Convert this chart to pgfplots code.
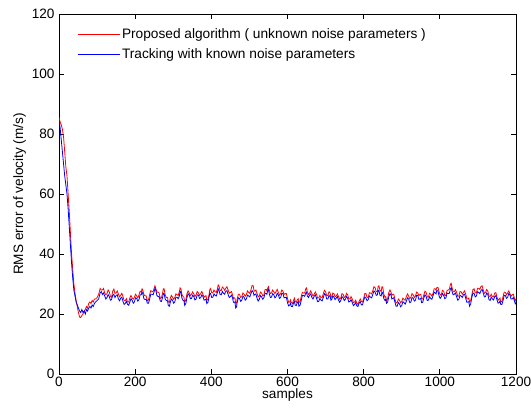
\documentclass[border=0pt]{standalone}
\usepackage{pgfplots}
\pgfplotsset{compat=1.18}
\usepackage{pgfplotstable}
\usepackage{fontspec}
\setmainfont{Liberation Sans}
\pgfplotstableread{
x b r
0 85 85.5
3 82 84
6 78 83
9 74 81.5
12 70 79
15 66 74
18 63 69
21 60 66
24 55 60
27 49 54
30 43 47
33 37 40
36 32 35
39 28 30
42 26 27
45 24 24.5
48 23 22.5
51 22 20.5
54 21 19
57 20.5 18.8
60 21.5 19.5
63 20.5 20
66 21 21
69 20 21.5
72 21.5 22.5
75 21 22
78 22 23.5
81 22.5 24
84 22 23.5
87 23 24.5
90 22.5 24
93 23.5 25
96 24 25
100 24.5 25.5
104 25 26.5
108 27 28.5
111 27.5 28
114 26.5 28
117 27 28.5
120 26 27
123 25.0 26.4
126 25.5 26.8
129 26.5 28.0
132 25.8 27.4
135 24.6 25.9
138 24.8 25.6
141 26.3 27.6
144 26.5 28.3
147 25.5 26.9
150 26.2 27.0
153 26.4 27.7
156 25.0 26.6
159 24.4 25.7
162 25.3 26.2
165 25.6 26.9
168 24.2 25.8
171 23.2 24.5
174 23.5 24.4
177 24.2 25.1
180 23.2 24.0
183 22.9 24.0
186 24.0 25.3
189 25.1 26.2
192 24.6 25.4
195 23.6 24.9
198 24.0 25.6
201 25.4 26.6
204 25.2 26.0
207 24.3 25.4
210 24.8 26.3
213 26.4 27.6
216 26.4 27.2
218 27.3 28.4
220 26.8 28.0
223 25.1 26.4
226 24.8 26.1
229 24.9 26.0
232 23.6 24.4
235 23.6 24.7
238 25.0 26.4
241 26.6 27.8
244 26.6 27.5
247 26.4 27.4
250 27.5 28.7
252 28.6 29.4
254 28.0 28.6
257 26.2 27.3
260 25.8 27.3
263 25.8 27.0
266 24.3 25.2
269 24.2 25.4
272 25.5 27.0
274 26.9 28.4
276 26.8 28.4
279 24.9 26.2
282 24.5 25.5
285 24.4 25.5
287 22.8 24.0
290 22.6 23.9
292 23.8 25.2
295 25.0 26.2
298 24.6 25.6
301 23.6 24.9
304 24.0 25.5
307 25.6 26.7
310 25.6 26.4
313 25.1 26.2
316 26.0 27.4
318 27.5 28.7
320 27.4 28.4
323 25.2 26.4
326 24.5 25.8
328 24.5 25.6
330 22.9 24.0
333 23.5 24.7
336 25.5 26.8
339 26.7 27.7
342 26.3 27.0
345 25.1 26.1
348 25.2 26.6
351 26.3 27.4
354 25.8 26.6
357 24.7 25.8
360 25.0 26.4
363 26.4 27.5
366 26.3 27.0
369 25.2 26.2
372 25.4 26.8
375 26.4 27.5
378 25.8 26.6
381 24.6 25.6
384 24.8 26.0
386 24.9 26.1
388 23.5 24.6
391 23.9 24.8
394 25.6 26.4
396 27.0 28.2
398 26.8 28.5
401 25.5 27.1
404 25.6 27.0
407 26.7 28.0
410 26.2 27.4
413 26.0 27.2
416 27.2 28.4
418 28.4 29.7
420 28.0 29.4
423 26.5 27.9
426 26.4 27.8
429 27.5 29.0
432 26.9 28.6
435 26.6 27.9
438 27.6 28.6
441 27.8 29.1
444 26.5 28.0
447 25.5 26.9
450 25.8 27.2
453 26.3 27.5
456 25.2 26.2
458 23.9 25.1
460 24.0 25.4
462 23.8 25.3
464 22.0 23.6
466 22.3 23.6
468 24.0 25.0
471 25.4 26.6
474 25.2 26.6
477 24.2 25.5
480 24.6 25.8
483 25.9 27.0
486 25.6 26.6
489 24.6 25.9
492 25.0 26.5
495 26.3 27.7
498 26.0 27.2
501 25.7 26.9
504 26.8 28.0
507 27.8 29.5
510 27.3 29.4
512 26.2 27.8
514 26.5 27.6
517 26.7 28.0
520 25.2 26.8
523 24.3 25.7
526 24.9 26.0
529 26.1 27.3
532 25.7 27.0
535 24.9 26.0
538 25.4 26.4
541 26.9 28.1
544 26.8 28.2
546 26.6 27.7
548 27.9 28.6
550 28.2 29.1
552 26.8 28.0
555 25.5 26.8
558 25.6 27.0
561 26.8 28.0
564 26.4 27.4
567 25.4 26.8
570 25.8 27.5
573 26.9 28.2
576 26.3 27.2
579 25.2 26.3
582 25.5 26.8
585 26.9 28.0
588 26.8 27.6
591 25.4 26.5
594 25.5 26.8
597 25.5 26.8
600 23.8 25.2
603 22.7 23.9
606 23.0 24.0
608 23.6 24.7
610 22.5 23.8
613 22.5 23.5
616 23.8 24.6
618 24.2 25.3
620 23.0 24.4
623 22.8 23.9
626 24.0 24.8
628 24.1 25.1
630 22.6 23.8
633 22.9 24.1
636 24.5 25.8
639 26.2 27.2
642 26.2 27.0
645 25.9 27.0
648 27.0 28.4
650 27.3 28.7
652 26.0 27.4
655 25.5 26.5
658 26.3 27.0
661 26.7 27.7
664 25.5 26.8
667 25.0 26.0
670 25.9 26.6
673 26.4 27.4
676 25.3 26.6
679 24.1 25.3
682 24.2 25.4
685 25.2 26.2
688 24.6 25.4
691 24.4 25.4
694 25.5 26.8
697 26.8 27.9
700 26.4 27.4
703 25.0 26.1
706 25.0 26.2
709 26.2 27.4
712 25.8 27.0
714 24.6 25.6
716 24.8 25.6
719 26.0 27.0
722 25.6 26.8
725 24.8 25.7
728 25.3 26.0
731 25.8 26.7
734 24.6 25.8
737 23.9 24.9
740 24.5 25.4
743 25.8 26.8
746 25.4 26.6
749 24.5 25.5
752 24.9 25.8
755 25.9 26.9
758 25.2 26.4
761 24.0 25.0
764 24.2 25.0
767 24.8 25.8
770 23.8 25.0
773 22.8 23.8
776 23.2 24.0
779 23.8 24.6
782 22.7 23.6
785 22.5 23.2
788 23.6 24.2
791 24.1 25.0
794 23.0 24.2
797 23.1 24.0
800 24.5 25.2
803 25.7 26.8
806 25.3 26.8
809 24.4 25.5
812 24.8 25.6
815 26.0 27.1
818 25.6 27.0
821 25.4 26.7
824 26.5 27.8
827 27.7 29.1
830 27.3 28.8
833 26.2 27.4
836 26.4 27.4
838 27.9 29.2
840 27.8 29.4
843 26.2 27.8
846 26.0 27.5
848 27.3 29.1
850 27.0 29.0
853 25.1 26.6
856 24.5 25.6
858 24.9 25.8
860 23.6 24.4
863 24.0 25.1
866 25.8 27.2
869 26.8 28.0
872 26.2 27.2
874 25.0 26.2
876 25.2 26.6
879 25.4 26.6
882 24.0 25.0
885 22.6 23.7
888 22.6 23.8
891 23.8 25.0
894 23.4 24.6
897 22.4 23.7
900 22.8 24.2
903 24.1 25.3
906 23.8 24.8
909 23.3 24.6
912 24.2 25.8
915 25.4 26.7
918 25.0 26.0
921 23.8 25.1
924 24.0 25.6
927 25.5 26.8
930 25.3 26.4
933 24.3 25.5
936 24.6 26.0
939 26.2 27.3
942 26.2 27.0
945 24.9 26.1
948 25.0 26.6
950 25.2 26.6
952 23.8 25.0
955 23.9 25.0
958 25.4 26.4
961 26.4 27.6
964 25.8 27.2
967 24.5 25.7
970 24.6 25.6
973 25.7 26.9
976 25.2 26.6
979 24.9 26.0
982 26.0 26.8
985 27.3 28.4
988 27.0 28.4
990 26.7 27.9
992 27.8 28.8
995 27.7 28.9
998 26.0 27.4
1001 25.2 26.3
1004 25.8 26.6
1007 26.8 27.9
1010 26.2 27.6
1013 25.1 26.2
1016 25.4 26.2
1019 26.9 27.9
1022 26.8 28.0
1025 26.9 28.3
1028 28.4 30.0
1030 28.8 30.2
1032 27.5 28.8
1035 26.4 27.4
1038 26.6 27.4
1041 27.0 28.1
1044 25.8 27.2
1047 24.6 25.9
1050 24.9 26.0
1053 26.2 27.5
1056 26.0 27.4
1059 25.5 26.6
1062 26.4 27.2
1065 26.6 27.7
1068 25.2 26.6
1071 23.9 25.1
1074 24.0 25.0
1076 24.1 25.3
1078 22.6 24.0
1081 23.4 24.5
1084 25.5 26.4
1087 27.0 28.2
1090 26.8 28.4
1093 25.7 27.0
1096 26.0 27.0
1099 27.4 28.6
1102 27.2 28.6
1105 26.8 28.2
1108 27.8 29.2
1111 28.2 29.4
1114 27.0 28.0
1117 25.7 26.9
1120 25.8 27.2
1123 27.0 28.2
1126 26.5 27.6
1129 24.8 26.0
1132 24.5 25.8
1135 25.6 26.6
1138 25.0 25.8
1141 24.7 25.7
1144 25.8 27.0
1147 26.1 27.1
1150 24.7 25.6
1153 23.6 24.6
1156 23.8 25.0
1158 24.3 25.3
1160 23.2 24.0
1163 23.2 24.2
1166 24.5 25.8
1169 26.2 27.3
1172 26.2 27.2
1175 25.2 26.4
1178 25.6 27.0
1181 26.8 27.7
1184 26.3 26.8
1187 25.0 25.9
1190 25.0 26.4
1193 25.5 26.6
1196 24.3 25.2
1198 23.4 24.4
1200 23.8 25.0
}\datatable
\begin{document}
\begin{tikzpicture}
\begin{axis}[
  scale only axis,
  width=457pt, height=360pt,
  xmin=0, xmax=1200, ymin=0, ymax=120,
  xtick={0,200,...,1200}, ytick={0,20,...,120},
  tick align=inside,
  major tick length=5pt,
  xtick pos=both, ytick pos=both,
  axis line style={line width=0.9pt},
  tick style={line width=0.7pt, black},
  font=\fontsize{13.6}{15.5}\selectfont,
  /pgf/number format/assume math mode=true,
  /pgf/number format/1000 sep={},
  xticklabel style={yshift=1pt},
  yticklabel style={xshift=-1pt},
  xlabel={samples},
  ylabel={RMS error of velocity (m/s)},
  xlabel style={yshift=4.5pt},
  ylabel style={yshift=-1pt},
  legend style={draw=none, fill=none, inner xsep=0pt, inner ysep=0pt,
    at={(axis description cs:0.0394,0.966)}, anchor=north west,
    row sep=4.5pt, font=\fontsize{13.7}{15.5}\selectfont},
  legend cell align=left,
  legend image code/.code={\draw[#1] plot coordinates {(0pt,0pt) (21pt,0pt) (42pt,0pt)};},
]
\addplot[color=red, line width=0.8pt] table[x=x, y=r] {\datatable};
\addlegendentry{Proposed algorithm ( unknown noise parameters )}
\addplot[color=blue, line width=0.8pt] table[x=x, y=b] {\datatable};
\addlegendentry{Tracking with known noise parameters}
\coordinate (bl) at (rel axis cs:0,0);
\coordinate (tr) at (rel axis cs:1,1);
\end{axis}
\pgfresetboundingbox
\path ([shift={(-59pt,-38pt)}]bl) rectangle ([shift={(15pt,14pt)}]tr);
\end{tikzpicture}
\end{document}
